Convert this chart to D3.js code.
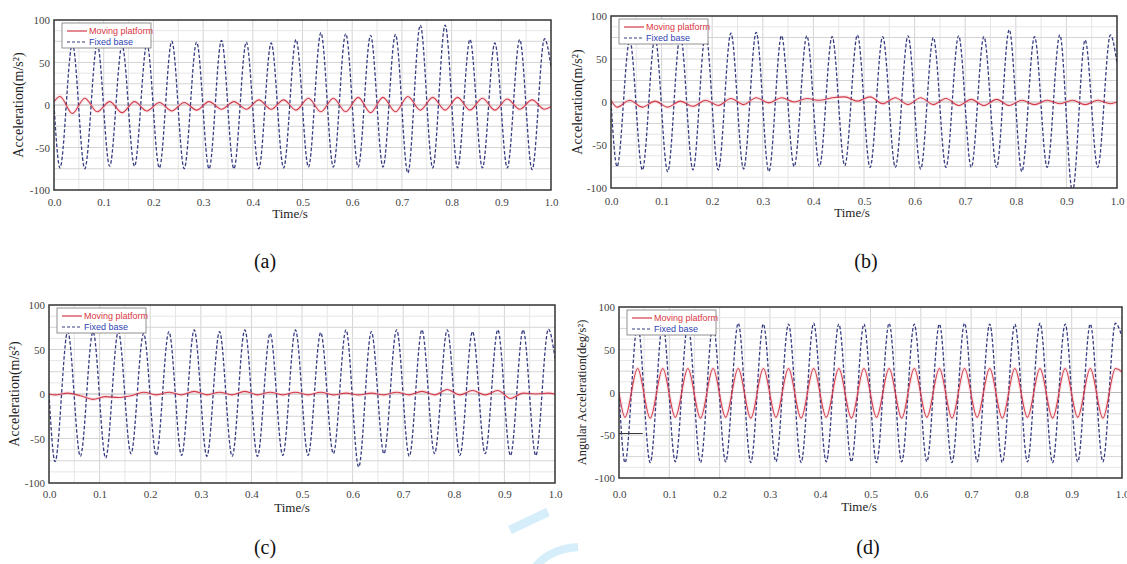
<!DOCTYPE html>
<html>
<head>
<meta charset="utf-8">
<script src="https://cdn.jsdelivr.net/npm/d3@7"></script>
<style>
  html, body { margin: 0; padding: 0; background: #fff; }
  svg { display: block; }
</style>
</head>
<body>
<svg id="fig" width="1127" height="564"></svg>
<script>
// Sample instants (s): start, alternating trough / crest of the 20 Hz excitation, end.
const sampleTimes = [0,
  0.012, 0.037, 0.062, 0.087, 0.112, 0.137, 0.162, 0.187, 0.212, 0.237,
  0.262, 0.287, 0.312, 0.337, 0.362, 0.387, 0.412, 0.437, 0.462, 0.487,
  0.512, 0.537, 0.562, 0.587, 0.612, 0.637, 0.662, 0.687, 0.712, 0.737,
  0.762, 0.787, 0.812, 0.837, 0.862, 0.887, 0.912, 0.937, 0.962, 0.987,
  1.0];

// (a) acceleration, m/s^2
const fixedA  = [0, -74,72, -75,72, -72,70, -72,72, -74,75, -75,74, -75,76, -75,74, -75,73, -74,77,
                 -73,85, -73,84, -73,82, -73,83, -80,94, -74,94, -74,77, -74,73, -74,77, -76,78, 45];
const movingA = [4, 10,-10, 8,-8, 4,-9, 4,-7, 3,-7, 3,-6, 4,-5, 4,-5, 6,-5, 6,-6,
                 8,-8, 8,-8, 9,-9, 9,-8, 10,-6, 9,-6, 9,-6, 8,-6, 7,-5, 6,-5, -2];

// (b) acceleration, m/s^2
const fixedB  = [0, -75,72, -79,75, -81,78, -79,80, -79,80, -78,81, -81,77, -75,77, -75,76, -74,78,
                 -76,76, -76,77, -78,75, -76,77, -76,76, -76,84, -81,76, -76,78, -104,72, -76,78, 45];
const movingB = [2, -6,2, -6,1, -6,1, -5,2, -4,4, -3,5, -1,5, 0,4, 2,5, 6,1,
                 6,-2, 5,-3, 5,-3, 4,-4, 3,-4, 3,-4, 2,-3, 2,-2, 2,-3, 2,-2, 0];

// (c) acceleration, m/s^2
const fixedC  = [0, -76,70, -70,70, -72,70, -67,68, -69,70, -69,72, -70,70, -70,72, -70,68, -69,72,
                 -69,69, -67,72, -82,70, -67,72, -70,72, -67,72, -69,70, -67,72, -69,72, -69,73, 40];
const movingC = [0, -1,1, -2,-6, -3,-4, -2,2, -1,2, -1,3, -1,2, -1,3, -1,2, -1,2,
                 -1,2, -1,1, -1,1, -1,2, -1,3, -1,5, -1,4, -1,4, -5,1, 0,1, 0];

// (d) angular acceleration, deg/s^2
const fixedD  = [0, -82,80, -82,81, -81,80, -82,80, -81,81, -82,80, -81,80, -82,81, -81,80, -81,80,
                 -82,81, -81,80, -81,80, -82,81, -81,80, -82,80, -81,81, -82,80, -81,80, -81,81, 65];
const movingD = [0, -29,28, -30,28, -29,28, -30,28, -29,28, -30,28, -29,28, -30,28, -29,28, -30,28,
                 -29,28, -30,28, -29,28, -30,28, -29,28, -30,28, -29,28, -30,28, -29,28, -30,28, 24];
// short reference stub drawn in panel (d)
const stubD = [[0, -48], [0.047, -48]];

// axes
const xTickValues = [0, 0.1, 0.2, 0.3, 0.4, 0.5, 0.6, 0.7, 0.8, 0.9, 1.0];
const yTickValues = [-100, -50, 0, 50, 100];
const xGridValues = [0.05, 0.1, 0.15, 0.2, 0.25, 0.3, 0.35, 0.4, 0.45, 0.5, 0.55, 0.6, 0.65, 0.7, 0.75, 0.8, 0.85, 0.9, 0.95];
const yGridValues = [-87.5, -75, -62.5, -50, -37.5, -25, -12.5, 0, 12.5, 25, 37.5, 50, 62.5, 75, 87.5];
const seriesNames = ["Moving platform", "Fixed base"];

const panels = [
  { fixed: fixedA, moving: movingA, caption: "(a)", yTitle: "Acceleration(m/s²)",
    box: { x0: 54, x1: 551, y0: 20, y1: 190 }, yTitleX: 20, yTitleSize: 14,
    tickDy: 14, xTitle: [290, 218], cap: [265, 268] },
  { fixed: fixedB, moving: movingB, caption: "(b)", yTitle: "Acceleration(m/s²)",
    box: { x0: 611, x1: 1117, y0: 16, y1: 188 }, yTitleX: 579, yTitleSize: 14,
    tickDy: 15, xTitle: [852, 217], cap: [866, 268] },
  { fixed: fixedC, moving: movingC, caption: "(c)", yTitle: "Acceleration(m/s²)",
    box: { x0: 49, x1: 555, y0: 305, y1: 483 }, yTitleX: 16, yTitleSize: 14,
    tickDy: 13, xTitle: [292, 512], cap: [265, 554] },
  { fixed: fixedD, moving: movingD, caption: "(d)", yTitle: "Angular Acceleration(deg/s²)",
    box: { x0: 619, x1: 1122, y0: 307, y1: 478 }, yTitleX: 583, yTitleSize: 12.5,
    tickDy: 18, xTitle: [859, 511], cap: [868, 554], stub: stubD }
];

const svg = d3.select("#fig");
const serif = "'Liberation Serif','Times New Roman',serif";
const sans = "'Liberation Sans',Arial,sans-serif";
const RED = "#d23a48", BLUE = "#383d82";

// faint background mark in the lower middle of the page
const wm = svg.append("g").attr("fill", "none").attr("stroke", "#d6eefa").attr("stroke-linecap", "butt");
wm.append("path").attr("d", "M510,530 L548,512").attr("stroke-width", 9);
wm.append("path").attr("d", "M536,566 Q550,549 578,547").attr("stroke-width", 8);

panels.forEach((p, i) => {
  const b = p.box;
  const x = d3.scaleLinear().domain([0, 1]).range([b.x0, b.x1]);
  const y = d3.scaleLinear().domain([-100, 100]).range([b.y1, b.y0]);
  const g = svg.append("g");
  const clipId = "clip" + i;
  g.append("clipPath").attr("id", clipId).append("rect")
    .attr("x", b.x0).attr("y", b.y0).attr("width", b.x1 - b.x0).attr("height", b.y1 - b.y0);

  // grid
  const grid = g.append("g");
  grid.selectAll("line.v").data(xGridValues).join("line")
    .attr("x1", d => x(d)).attr("x2", d => x(d)).attr("y1", b.y0).attr("y2", b.y1)
    .attr("stroke", d => (Math.round(d * 100) % 10 === 0) ? "#d4d4d4" : "#e6e6e6").attr("stroke-width", 1);
  grid.selectAll("line.h").data(yGridValues).join("line")
    .attr("y1", d => y(d)).attr("y2", d => y(d)).attr("x1", b.x0).attr("x2", b.x1)
    .attr("stroke", d => d === 0 ? "#b8b8b8" : (d % 25 === 0 ? "#d4d4d4" : "#e6e6e6")).attr("stroke-width", 1);

  // series
  const line = d3.line()
    .x((d, j) => x(sampleTimes[j]))
    .y(d => y(d))
    .curve(d3.curveMonotoneX);
  const plot = g.append("g").attr("clip-path", `url(#${clipId})`);
  plot.append("path").datum(p.moving).attr("d", line)
    .attr("fill", "none").attr("stroke", "#f4c4cb").attr("stroke-width", 3.5).attr("stroke-opacity", 0.45);
  plot.append("path").datum(p.fixed).attr("d", line)
    .attr("fill", "none").attr("stroke", BLUE).attr("stroke-width", 1.3)
    .attr("stroke-dasharray", "3.5,2");
  plot.append("path").datum(p.moving).attr("d", line)
    .attr("fill", "none").attr("stroke", RED).attr("stroke-width", 1.1);
  if (p.stub) {
    plot.append("path").datum(p.stub)
      .attr("d", d3.line().x(d => x(d[0])).y(d => y(d[1])))
      .attr("fill", "none").attr("stroke", "#333").attr("stroke-width", 1);
  }

  // frame
  g.append("rect").attr("x", b.x0).attr("y", b.y0)
    .attr("width", b.x1 - b.x0).attr("height", b.y1 - b.y0)
    .attr("fill", "none").attr("stroke", "#333").attr("stroke-width", 1.5);

  // axes
  const xAxis = d3.axisBottom(x).tickValues(xTickValues).tickSize(0).tickPadding(p.tickDy - 6)
    .tickFormat(d3.format(".1f"));
  const ax = g.append("g").attr("transform", `translate(0,${b.y1})`).call(xAxis);
  const yAxis = d3.axisLeft(y).tickValues(yTickValues).tickSize(0).tickPadding(4)
    .tickFormat(d => String(d));
  const ay = g.append("g").attr("transform", `translate(${b.x0},0)`).call(yAxis);
  [ax, ay].forEach(a => {
    a.attr("font-family", null).attr("font-size", null);
    a.select(".domain").remove();
    a.selectAll("text").style("font-family", serif).style("font-size", "11px").attr("fill", "#444");
  });

  // titles
  g.append("text").attr("x", p.xTitle[0]).attr("y", p.xTitle[1])
    .attr("text-anchor", "middle").style("font-family", serif).style("font-size", "13px").attr("fill", "#222")
    .text("Time/s");
  g.append("text")
    .attr("transform", `translate(${p.yTitleX},${(b.y0 + b.y1) / 2}) rotate(-90)`)
    .attr("text-anchor", "middle").attr("dominant-baseline", "middle")
    .style("font-family", serif).style("font-size", p.yTitleSize + "px").attr("fill", "#222")
    .text(p.yTitle);
  g.append("text").attr("x", p.cap[0]).attr("y", p.cap[1])
    .attr("text-anchor", "middle").style("font-family", serif).style("font-size", "20px").attr("fill", "#111")
    .text(p.caption);

  // legend
  const lg = g.append("g").attr("transform", `translate(${b.x0 + 8},${b.y0 + 3})`);
  lg.append("rect").attr("width", 89).attr("height", 25)
    .attr("fill", "#fff").attr("stroke", "#777").attr("stroke-width", 0.8);
  const rows = [
    { name: seriesNames[0], color: RED, text: "#d9363f", dash: null },
    { name: seriesNames[1], color: BLUE, text: "#2f3fb4", dash: "3,2" }
  ];
  rows.forEach((r, k) => {
    const yy = 8 + k * 11;
    lg.append("line").attr("x1", 5).attr("x2", 25).attr("y1", yy).attr("y2", yy)
      .attr("stroke", r.color).attr("stroke-width", 1.2).attr("stroke-dasharray", r.dash);
    lg.append("text").attr("x", 27).attr("y", yy + 3)
      .style("font-family", sans).style("font-size", "9px").attr("fill", r.text)
      .text(r.name);
  });
});
</script>
</body>
</html>
